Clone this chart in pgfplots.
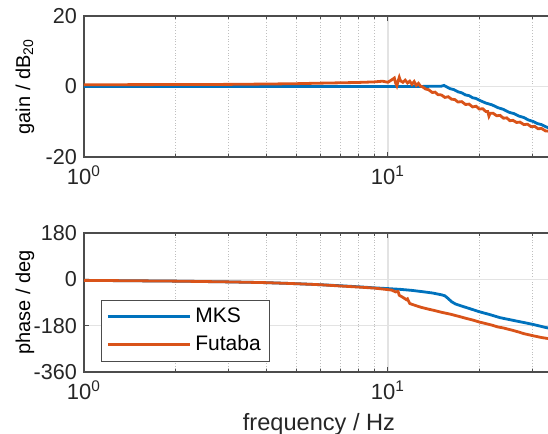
\documentclass[border=0pt]{standalone}
\usepackage{pgfplots}
\pgfplotsset{compat=1.18}
\usepackage{fontspec}
\setmainfont{Liberation Sans}
\definecolor{mblue}{rgb}{0,0.447,0.741}
\definecolor{morange}{rgb}{0.85,0.325,0.098}
\definecolor{axgray}{gray}{0.3}
\definecolor{txtgray}{gray}{0.15}

\pgfplotsset{
  myaxis/.style={
    scale only axis, width=235pt, xmin=1, xmax=35.2,
    xtick={1,10}, xticklabels={10\textsuperscript{0},10\textsuperscript{1}},
    minor xtick={2,3,4,5,6,7,8,9,20,30},
    grid=both,
    major grid style={solid, gray!22, line width=0.6pt},
    minor grid style={densely dotted, gray!50, line width=0.5pt},
    axis line style={axgray, line width=0.6pt},
    every tick/.style={axgray, line width=0.5pt},
    major tick length=2.5pt, minor tick length=1.5pt,
    tick align=inside,
    xticklabel style={font=\fontsize{11}{13}\selectfont, text=txtgray, yshift=-1pt},
    yticklabel style={font=\fontsize{10.8}{13}\selectfont, text=txtgray},
    label style={font=\fontsize{11.8}{13}\selectfont, text=txtgray},
    every axis y label/.style={at={(axis description cs:-0.1255,0.5)}, rotate=90, anchor=center},
    clip=true,
  },
}

\begin{document}
\begin{tikzpicture}
\useasboundingbox (0,0) rectangle (274pt,217pt);

% ---------------- gain ----------------
\begin{semilogxaxis}[myaxis,
  at={(42pt,138.5pt)}, anchor=south west, height=70.5pt,
  ymin=-20, ymax=20, ytick={-20,0,20}, yticklabels={-20,0,20},
  ylabel={gain / dB\textsubscript{20}},
]
\addplot[mblue, line width=1.4pt] coordinates {
(1,0) (3,0) (6,0) (10,0) (12,0) (14,0.05) (15,0.1) (15.3,0.3) (15.6,-0.1)
(16,-0.6) (16.5,-0.9) (17,-1.5) (17.5,-1.8) (18,-2.4) (18.5,-2.6) (19,-3.2)
(19.5,-3.4) (20,-3.9) (21,-4.7) (22,-5.2) (23,-6.0) (24,-6.5) (25,-7.3)
(26,-7.7) (27,-8.4) (28,-8.8) (29,-9.5) (30,-9.9) (31,-10.5) (32,-10.8)
(33,-11.4) (34,-11.8) (35.2,-12.3)
};
\addplot[morange, line width=1.4pt] coordinates {
(1,0.5) (2,0.55) (3,0.6) (4,0.7) (5,0.8) (6,0.95) (7,1.05) (8,1.15) (9,1.3)
(9.6,1.5) (10,1.2) (10.3,1.9) (10.5,2.4) (10.6,1.0) (10.7,0.2) (10.8,1.5)
(10.9,2.6) (11.0,1.6) (11.2,1.2) (11.4,1.8) (11.6,1.0) (11.8,1.5) (12.0,0.6)
(12.2,1.4) (12.4,0.3) (12.6,0.9) (12.8,0.1)
(13.0,-0.1) (13.3,-0.7) (13.6,-0.9) (14.0,-1.7) (14.3,-1.6) (14.6,-2.3)
(15.0,-2.4) (15.4,-3.1) (15.8,-2.9) (16.2,-3.6) (16.6,-3.7) (17.0,-4.4)
(17.5,-4.3) (18.0,-5.1) (18.5,-5.0) (19.0,-5.8) (19.5,-5.6) (20.0,-6.4)
(20.5,-6.3) (21.0,-7.1) (21.3,-7.1) (21.5,-8.4) (21.7,-7.6) (22.2,-7.6)
(22.8,-8.3) (23.4,-8.2) (24.0,-9.0) (24.6,-8.9) (25.2,-9.7) (25.8,-9.6)
(26.5,-10.2) (27.2,-10.1) (28.0,-10.8) (28.8,-10.7) (29.6,-11.4) (30.4,-11.3)
(31.2,-12.0) (32.0,-11.9) (33.0,-12.6) (34.0,-12.7) (35.2,-13.2)
};
\end{semilogxaxis}

% ---------------- phase ----------------
\begin{semilogxaxis}[myaxis,
  at={(42pt,31pt)}, anchor=south west, height=69.5pt,
  ymin=-360, ymax=180, ytick={-360,-180,0,180}, yticklabels={-360,-180,0,180},
  ylabel={phase / deg}, xlabel={frequency / Hz},
  xlabel style={yshift=0pt},
  legend style={at={(0,0)}, anchor=south west, xshift=8.5pt, yshift=5pt,
    draw=axgray, line width=0.6pt, fill=white,
    font=\fontsize{10.5}{12}\selectfont, text=black,
    inner xsep=2.5pt, inner ysep=1.75pt, row sep=1pt, cells={anchor=west},
    /tikz/every even column/.append style={column sep=3pt}},
  legend image code/.code={\draw[#1] (0pt,0pt) -- (41pt,0pt);},
]
\addplot[mblue, line width=1.4pt] coordinates {
(1,-4) (2,-7) (3,-10) (4,-13) (5,-17) (6,-21) (7,-25) (8,-29) (9,-33)
(10,-36) (11,-39) (12,-43) (13,-48) (14,-53) (15,-60) (15.4,-64) (15.8,-75)
(16.2,-87) (16.7,-96) (17.5,-104) (18.5,-113) (20,-126) (21.5,-136)
(23.4,-149) (25,-156) (27,-164) (30,-175) (33,-187) (35.2,-193)
};
\addlegendentry{MKS}
\addplot[morange, line width=1.4pt] coordinates {
(1,-4) (2,-7) (3,-10) (4,-13) (5,-17) (6,-21) (7,-26) (8,-30) (9,-34)
(10,-40) (10.3,-42) (10.6,-49) (10.8,-47) (10.9,-62) (11.2,-70) (11.5,-79)
(11.6,-76) (11.8,-94) (12.2,-100) (12.8,-108) (13.5,-115) (14.1,-120)
(15,-128) (16,-135) (17,-143) (18,-151) (19,-158) (20,-166) (21,-172)
(22,-178) (23,-185) (24,-189) (25.7,-198) (27,-205) (28,-211) (30,-219)
(32,-226) (33.6,-230) (35.2,-234)
};
\addlegendentry{Futaba\hspace{3pt}}
\end{semilogxaxis}

\end{tikzpicture}
\end{document}
